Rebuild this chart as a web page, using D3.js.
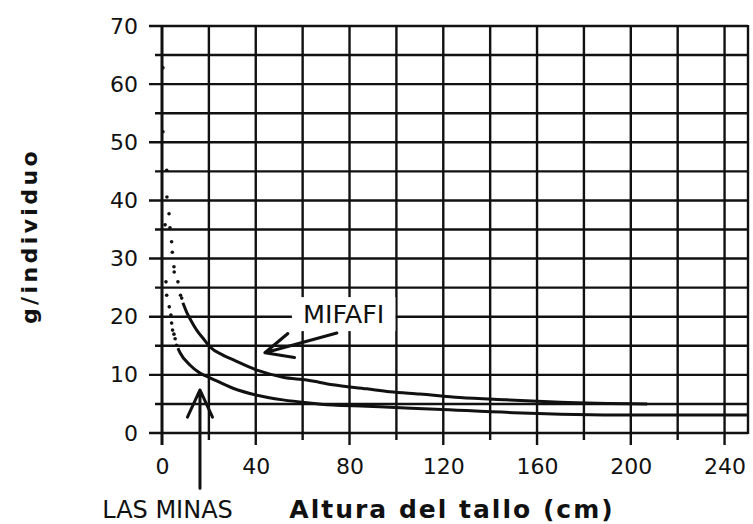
<!DOCTYPE html>
<html>
<head>
<meta charset="utf-8">
<script src="https://cdn.jsdelivr.net/npm/d3@7"></script>
<style>
  body { margin: 0; background: #fff; }
</style>
</head>
<body>
<div id="chart"></div>
<script>
// tick values
const xMajorTicks = [0, 40, 80, 120, 160, 200, 240];
const xGridValues = [0, 20, 40, 60, 80, 100, 120, 140, 160, 180, 200, 220, 240];
const yMajorTicks = [0, 10, 20, 30, 40, 50, 60, 70];
const yGridValues = [0, 5, 10, 15, 20, 25, 30, 35, 40, 45, 50, 55, 60, 65, 70];

// MIFAFI - steep part plotted as loose dots
const mifafiDotX = [0.4, 2.0, 2.1, 3.0, 3.4, 4.1, 4.4, 5.1, 5.2, 6.8, 7.9, 8.4];
const mifafiDotY = [62.8, 45.2, 40.6, 37.7, 35.3, 32.9, 31.1, 28.6, 27.7, 26.0, 23.7, 23.2];
// MIFAFI - continuous part
const mifafiX = [8.9, 10.5, 12.7, 14.8, 17.5, 20.5, 26, 30.3, 40.5, 51.6, 61.8, 72.9, 87.4, 97.2, 110, 127, 147, 170, 207];
const mifafiY = [22.4, 20.8, 19.1, 17.7, 16.3, 14.8, 13.4, 12.6, 10.8, 9.6, 9.1, 8.3, 7.6, 7.1, 6.7, 6.1, 5.7, 5.3, 5.0];

// LAS MINAS
const minasDotX = [0.4, 1.3, 1.7, 2.0, 3.1, 3.8, 4.1, 4.5, 5.1, 5.6, 6.2];
const minasDotY = [51.8, 35.8, 26.0, 23.7, 21.7, 20.3, 18.9, 17.7, 17.0, 16.2, 15.1];
const minasX = [6.8, 7.7, 11.9, 16.2, 20.5, 30.3, 40.5, 51.6, 61.8, 72.9, 87.4, 92.9, 117, 150, 199.5, 250];
const minasY = [14.6, 13.8, 11.7, 10.3, 9.5, 7.7, 6.5, 5.7, 5.2, 4.8, 4.6, 4.5, 4.1, 3.5, 3.1, 3.1];

const ink = "#111";
const tickFont = "DejaVu Sans";

const svgW = 753, svgH = 524;
const margin = { top: 26, right: 5, bottom: 91, left: 162 };
const width = svgW - margin.left - margin.right,
      height = svgH - margin.top - margin.bottom;

const svg = d3.select("#chart").append("svg")
    .attr("width", svgW)
    .attr("height", svgH);

const g = svg.append("g")
    .attr("transform", `translate(${margin.left}, ${margin.top})`);

const x = d3.scaleLinear().domain([0, 250]).range([0, width]);
const y = d3.scaleLinear().domain([0, 70]).range([height, 0]);

// horizontal grid (also acts as y ticks)
g.selectAll("line.hgrid")
    .data(yGridValues)
    .join("line")
    .attr("class", "hgrid")
    .attr("x1", d => (d % 10 === 0 ? -13 : -7))
    .attr("x2", x(250))
    .attr("y1", d => y(d))
    .attr("y2", d => y(d))
    .attr("stroke", ink)
    .attr("stroke-width", 2.4);

// vertical grid (also acts as x ticks)
g.selectAll("line.vgrid")
    .data(xGridValues)
    .join("line")
    .attr("class", "vgrid")
    .attr("x1", d => x(d))
    .attr("x2", d => x(d))
    .attr("y1", y(70))
    .attr("y2", d => y(0) + (d % 40 === 0 ? 12 : 7))
    .attr("stroke", ink)
    .attr("stroke-width", d => (d === 0 ? 3 : 2.4));

// right border
g.append("line")
    .attr("x1", x(250)).attr("x2", x(250))
    .attr("y1", y(70) - 1).attr("y2", y(0) + 1)
    .attr("stroke", ink)
    .attr("stroke-width", 2.4);

// axis labels
g.append("g")
    .call(d3.axisLeft(y).tickValues(yMajorTicks).tickSize(0).tickPadding(24))
    .call(a => a.select(".domain").remove())
    .selectAll("text")
    .attr("font-family", tickFont)
    .attr("font-size", 22)
    .attr("fill", ink);

g.append("g")
    .attr("transform", `translate(0, ${height})`)
    .call(d3.axisBottom(x).tickValues(xMajorTicks).tickSize(0).tickPadding(25))
    .call(a => a.select(".domain").remove())
    .selectAll("text")
    .attr("font-family", tickFont)
    .attr("font-size", 22)
    .attr("fill", ink);

// curves
const line = d3.line()
    .x(d => x(d[0]))
    .y(d => y(d[1]))
    .curve(d3.curveMonotoneX);

function drawSeries(dx, dy, lx, ly) {
    g.append("path")
        .datum(lx.map((v, i) => [v, ly[i]]))
        .attr("d", line)
        .attr("fill", "none")
        .attr("stroke", ink)
        .attr("stroke-width", 3);
    g.selectAll(null)
        .data(dx.map((v, i) => [v, dy[i]]))
        .join("circle")
        .attr("cx", d => x(d[0]))
        .attr("cy", d => y(d[1]))
        .attr("r", 1.8)
        .attr("fill", ink);
}
drawSeries(mifafiDotX, mifafiDotY, mifafiX, mifafiY);
drawSeries(minasDotX, minasDotY, minasX, minasY);

// MIFAFI annotation (label with white box + arrow)
const mifafiBox = g.append("rect").attr("fill", "#fff");
const mifafiLabel = g.append("text")
    .attr("x", x(77.5))
    .attr("y", y(18.9))
    .attr("text-anchor", "middle")
    .attr("font-family", tickFont)
    .attr("font-size", 25.5)
    .attr("fill", ink)
    .text("MIFAFI");
const bb = mifafiLabel.node().getBBox();
mifafiBox
    .attr("x", bb.x - 11)
    .attr("y", bb.y - 2)
    .attr("width", bb.width + 22)
    .attr("height", bb.height + 4);

function arrow(x0, y0, x1, y1) {
    // shaft from (x0,y0) to tip (x1,y1), in data units
    const px0 = x(x0), py0 = y(y0), px1 = x(x1), py1 = y(y1);
    const ang = Math.atan2(py0 - py1, px0 - px1);
    const len = 30, spread = 0.43;
    g.append("path")
        .attr("d", `M${px0},${py0}L${px1},${py1}` +
            `M${px1 + len * Math.cos(ang - spread)},${py1 + len * Math.sin(ang - spread)}` +
            `L${px1},${py1}` +
            `L${px1 + len * Math.cos(ang + spread)},${py1 + len * Math.sin(ang + spread)}`)
        .attr("fill", "none")
        .attr("stroke", ink)
        .attr("stroke-width", 3)
        .attr("stroke-linecap", "round")
        .attr("stroke-linejoin", "round");
}
arrow(74.6, 17.2, 43.9, 13.8);
arrow(16.2, -9.5, 16.2, 7.4);

svg.append("text")
    .attr("x", 167.5)
    .attr("y", 518)
    .attr("text-anchor", "middle")
    .attr("font-family", tickFont)
    .attr("font-size", 24)
    .attr("fill", ink)
    .text("LAS MINAS");

// axis titles
svg.append("text")
    .attr("x", 452)
    .attr("y", 518)
    .attr("text-anchor", "middle")
    .attr("font-family", tickFont)
    .attr("font-weight", "bold")
    .attr("font-size", 25)
    .attr("letter-spacing", 2)
    .attr("fill", ink)
    .text("Altura del tallo (cm)");

svg.append("text")
    .attr("transform", "translate(37, 236) rotate(-90)")
    .attr("text-anchor", "middle")
    .attr("font-family", tickFont)
    .attr("font-weight", "bold")
    .attr("font-size", 22)
    .attr("letter-spacing", 3.4)
    .attr("fill", ink)
    .text("g/individuo");
</script>
</body>
</html>
